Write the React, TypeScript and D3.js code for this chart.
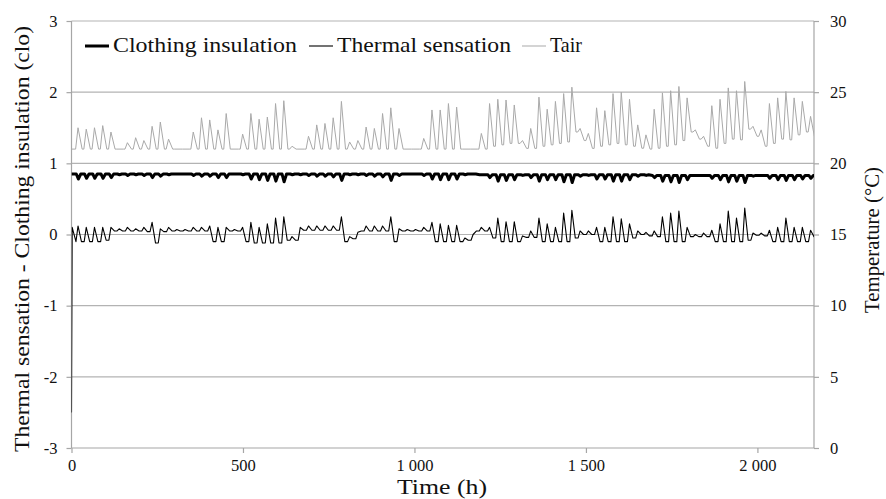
import React, { useEffect, useRef } from 'react';
import * as d3 from 'd3';

// chart box
const settings = {
  width: 886,
  height: 499,
  left: 71.5,
  right: 814,
  top: 21,
  bottom: 448
};

const xMax = 2165;
const xTicks = [0, 500, 1000, 1500, 2000];
const leftTicks = [-3, -2, -1, 0, 1, 2, 3];
const rightTicks = [0, 5, 10, 15, 20, 25, 30];

// one entry per day (day d starts at hour 24*d); null = no afternoon peak
const tairPeak = [
  22.5, 22.4, 22.5, 22.65, 22.2, null, 21.45, 21.8, 21.6, 22.6,
  22.9, 21.7, null, null, 22.2, 23.2, 23.05, 22.35, 23.5, null,
  22.05, 23.5, 23.1, 23.25, 24.2, 24.4, 21.2, null, 21.9, 22.7,
  22.8, 23.2, 24.35, 21.5, 21.6, 22.55, 22.45, 23.5, 23.9, 22.45,
  null, null, 21.75, 23.75, 23.75, 24.2, 23.95, null, null, 22.1,
  24.2, 24.5, 24.45, 24.1, 21.6, 22.45, 24.65, 23.8, 24.35, 24.9,
  25.35, 22.45, 22.1, 23.9, 23.7, 24.9, 25.0, 24.5, 22.7, 22.0,
  23.8, 24.95, 25.1, 25.4, 24.6, 22.35, 21.9, 24.05, 24.5, 25.3,
  25.1, 25.75, 22.6, 22.35, 24.2, 24.6, 25.05, 24.6, 24.35, 23.3,
  null
];

// night level before each day's rise
const tairLow = [
  21, 21, 21, 21, 21, 21, 21, 21, 21, 21,
  21, 21, 21, 21, 21, 21, 21, 21, 21, 21,
  21, 21, 21, 21, 21, 21, 21, 21, 21, 21,
  21, 21, 21, 21, 21, 21, 21, 21, 21, 21,
  21, 21, 21, 21, 21, 21, 21, 21, 21, 21,
  21, 21.2, 21.3, 21.4, 21.4, 21.05, 21.05, 21.2, 21.3, 21.4,
  21.5, 22.2, 21.6, 21.05, 21.2, 21.3, 21.4, 21.3, 21.2, 21.06,
  21.0, 21.06, 21.2, 21.3, 21.6, 22.2, 21.7, 21.2, 21.06, 21.4,
  21.7, 21.65, 22.4, 21.9, 21.2, 21.4, 21.7, 21.65, 22.0, 22.2,
  21.8
];

const tsStart = -2.5;

const tsPeak = [
  0.12, 0.1, 0.1, 0.1, 0.1, 0.08, 0.1, 0.08, 0.1, 0.17,
  0.08, 0.1, 0.07, 0.07, 0.1, 0.1, 0.12, 0.1, 0.1, 0.07,
  0.1, 0.17, 0.1, 0.15, 0.23, 0.25, -0.03, 0.1, 0.12, 0.12,
  0.12, 0.12, 0.25, -0.03, 0.03, 0.12, 0.12, 0.12, 0.25, 0.08,
  0.07, 0.07, 0.1, 0.17, 0.15, 0.13, 0.13, -0.05, 0.0, 0.1,
  0.1, 0.23, 0.18, 0.18, -0.02, 0.05, 0.23, 0.15, 0.1, 0.3,
  0.34, 0.05, 0.05, 0.1, 0.1, 0.25, 0.22, 0.15, 0.05, 0.03,
  0.05, 0.25, 0.3, 0.33, 0.1, 0.0, 0.02, 0.06, 0.15, 0.33,
  0.23, 0.37, 0.02, 0.02, 0.06, 0.1, 0.23, 0.1, 0.1, 0.06,
  0.02
];

const tsLow = [
  -0.1, -0.1, -0.1, -0.1, -0.08, 0.05, 0.05, 0.05, 0.05, 0.04,
  -0.12, 0.04, 0.05, 0.05, 0.05, 0.05, 0.05, -0.1, -0.1, 0.05,
  0.05, -0.1, -0.12, -0.12, -0.12, -0.12, -0.08, -0.08, 0.06, 0.06,
  0.06, 0.06, 0.06, -0.1, -0.06, 0.05, 0.05, 0.05, 0.05, -0.1,
  0.05, 0.05, 0.05, 0.05, -0.1, -0.1, -0.1, -0.1, -0.08, 0.05,
  0.05, -0.05, -0.1, -0.1, -0.1, -0.04, -0.04, -0.1, -0.1, -0.1,
  -0.1, -0.05, 0.0, 0.0, -0.1, -0.1, -0.1, -0.1, -0.05, 0.0,
  -0.02, -0.03, -0.1, -0.1, -0.1, -0.03, -0.03, -0.03, -0.1, -0.1,
  -0.1, -0.1, -0.08, -0.01, -0.02, -0.1, -0.1, -0.1, -0.1, -0.1,
  -0.03
];

// clothing level per week, and the lowest value reached each day
const cloBase = [0.85, 0.85, 0.85, 0.85, 0.85, 0.85, 0.85, 0.84, 0.84, 0.84, 0.83, 0.83, 0.83];

const cloMin = [
  0.78, 0.79, 0.79, 0.79, 0.8, 0.84, 0.83, 0.84, 0.83, 0.8,
  0.82, 0.84, 0.85, 0.85, 0.83, 0.82, 0.82, 0.8, 0.8, 0.85,
  0.84, 0.78, 0.77, 0.76, 0.75, 0.74, 0.84, 0.84, 0.83, 0.82,
  0.82, 0.81, 0.76, 0.84, 0.84, 0.83, 0.82, 0.81, 0.76, 0.83,
  0.85, 0.85, 0.83, 0.78, 0.77, 0.77, 0.78, 0.84, 0.85, 0.84,
  0.8, 0.75, 0.76, 0.77, 0.83, 0.8, 0.75, 0.77, 0.77, 0.74,
  0.73, 0.82, 0.83, 0.78, 0.78, 0.75, 0.75, 0.77, 0.82, 0.83,
  0.8, 0.75, 0.74, 0.73, 0.77, 0.83, 0.83, 0.79, 0.77, 0.74,
  0.75, 0.73, 0.82, 0.83, 0.79, 0.77, 0.76, 0.77, 0.78, 0.79,
  0.83
];

const legendItems = [
  { label: 'Clothing insulation', x: 85, width: 3, color: '#000', textWidth: 184 },
  { label: 'Thermal sensation', x: 309, width: 1.1, color: '#000', textWidth: 174 },
  { label: 'Tair', x: 522, width: 1, color: '#a9a9a9', textWidth: 32 }
];

const gridColor = '#b3b3b3';
const axisColor = '#a6a6a6';
const tairColor = '#a9a9a9';

const fmt = d3.formatLocale({ decimal: '.', thousands: '\u00a0', grouping: [3], currency: ['', ''] }).format(',d');

function buildTair() {
  const pts = [[0, tairLow[0]]];
  tairPeak.forEach(function(p, d) {
    const t0 = d * 24;
    const next = d + 1 < tairLow.length ? tairLow[d + 1] : tairLow[d];
    pts.push([t0 + 12, tairLow[d]]);
    if (p !== null) pts.push([t0 + 19, p]);
    pts.push([t0 + 31, next]);
  });
  return pts;
}

function buildTs() {
  const pts = [[0, tsStart], [2, 0.1]];
  tsPeak.forEach(function(p, d) {
    const t0 = d * 24;
    const next = d + 1 < tsLow.length ? tsLow[d + 1] : tsLow[d];
    pts.push([t0 + 13, tsLow[d]], [t0 + 19, p], [t0 + 29, next]);
  });
  return pts;
}

function buildClo() {
  const pts = [[0, cloBase[0]]];
  cloMin.forEach(function(m, d) {
    const t0 = d * 24;
    const b = cloBase[Math.floor(d / 7)];
    pts.push([t0 + 14, b], [t0 + 20, m], [t0 + 27, b]);
  });
  return pts;
}

function Axis(props) {
  const ref = useRef(null);
  useEffect(function() {
    const g = d3.select(ref.current);
    g.call(props.axis);
    g.attr('font-family', null).attr('font-size', null);
    g.select('.domain').remove();
    g.selectAll('.tick line').attr('stroke', axisColor).attr('stroke-width', 1.2);
    g.selectAll('.tick text').attr('fill', '#111').attr('class', 'tickLabel');
  });
  return <g ref={ref} transform={props.translate} />;
}

const css = `
  svg.chart text { font-family: "Liberation Serif", "Times New Roman", serif; fill: #111; }
  svg.chart text.tickLabel { font-size: 16.5px; }
`;

export default function App() {
  const x = d3.scaleLinear().domain([0, xMax]).range([settings.left, settings.right]);
  const yL = d3.scaleLinear().domain([-3, 3]).range([settings.bottom, settings.top]);
  const yR = d3.scaleLinear().domain([0, 30]).range([settings.bottom, settings.top]);

  const tairLine = d3.line().x(function(d) { return x(d[0]); }).y(function(d) { return yR(d[1]); });
  const leftLine = d3.line().x(function(d) { return x(d[0]); }).y(function(d) { return yL(d[1]); });

  const xAxis = d3.axisBottom(x).tickValues(xTicks).tickSize(5).tickPadding(6).tickFormat(fmt);
  const lAxis = d3.axisLeft(yL).tickValues(leftTicks).tickSize(5).tickPadding(9).tickFormat(function(d) { return String(d); });
  const rAxis = d3.axisRight(yR).tickValues(rightTicks).tickSize(5).tickPadding(11).tickFormat(function(d) { return String(d); });

  const plotW = settings.right - settings.left;
  const plotH = settings.bottom - settings.top;

  return (
    <div>
      <style>{css}</style>
      <svg className="chart" width={settings.width} height={settings.height}
           style={{ position: 'absolute', left: 0, top: 0, background: '#fff' }}>
        <defs>
          <clipPath id="plot">
            <rect x={settings.left} y={settings.top - 2} width={plotW} height={plotH + 4} />
          </clipPath>
        </defs>
        <rect width={settings.width} height={settings.height} fill="#fff" />

        {leftTicks.filter(function(t) { return t > -3; }).map(function(t) {
          return <line key={t} x1={settings.left} x2={settings.right} y1={yL(t)} y2={yL(t)}
                       stroke={gridColor} strokeWidth={1.2} />;
        })}

        <line x1={settings.left} x2={settings.left} y1={settings.top} y2={settings.bottom} stroke={axisColor} strokeWidth={1.2} />
        <line x1={settings.right} x2={settings.right} y1={settings.top} y2={settings.bottom} stroke={axisColor} strokeWidth={1.2} />
        <line x1={settings.left} x2={settings.right} y1={settings.bottom} y2={settings.bottom} stroke={axisColor} strokeWidth={1.2} />

        <Axis axis={xAxis} translate={`translate(0,${settings.bottom})`} />
        <Axis axis={lAxis} translate={`translate(${settings.left},0)`} />
        <Axis axis={rAxis} translate={`translate(${settings.right},0)`} />

        <g clipPath="url(#plot)" fill="none" strokeLinejoin="round">
          <path d={tairLine(buildTair())} stroke={tairColor} strokeWidth={1} />
          <path d={leftLine(buildTs())} stroke="#000" strokeWidth={1.1} />
          <path d={leftLine(buildClo())} stroke="#000" strokeWidth={3} />
        </g>

        {legendItems.map(function(item) {
          return (
            <g key={item.label}>
              <line x1={item.x} x2={item.x + 24} y1={46} y2={46} stroke={item.color} strokeWidth={item.width} />
              <text x={item.x + 28} y={52} fontSize="21px"
                    textLength={item.textWidth} lengthAdjust="spacingAndGlyphs">{item.label}</text>
            </g>
          );
        })}

        <text transform="translate(29,239) rotate(-90)" textAnchor="middle" fontSize="21px"
              textLength={426} lengthAdjust="spacingAndGlyphs">
          Thermal sensation - Clothing insulation (clo)
        </text>
        <text transform="translate(879,240) rotate(-90)" textAnchor="middle" fontSize="21px"
              textLength={146} lengthAdjust="spacingAndGlyphs">
          Temperature (°C)
        </text>
        <text x={442} y={494} textAnchor="middle" fontSize="22px"
              textLength={90} lengthAdjust="spacingAndGlyphs">
          Time (h)
        </text>
      </svg>
    </div>
  );
}
